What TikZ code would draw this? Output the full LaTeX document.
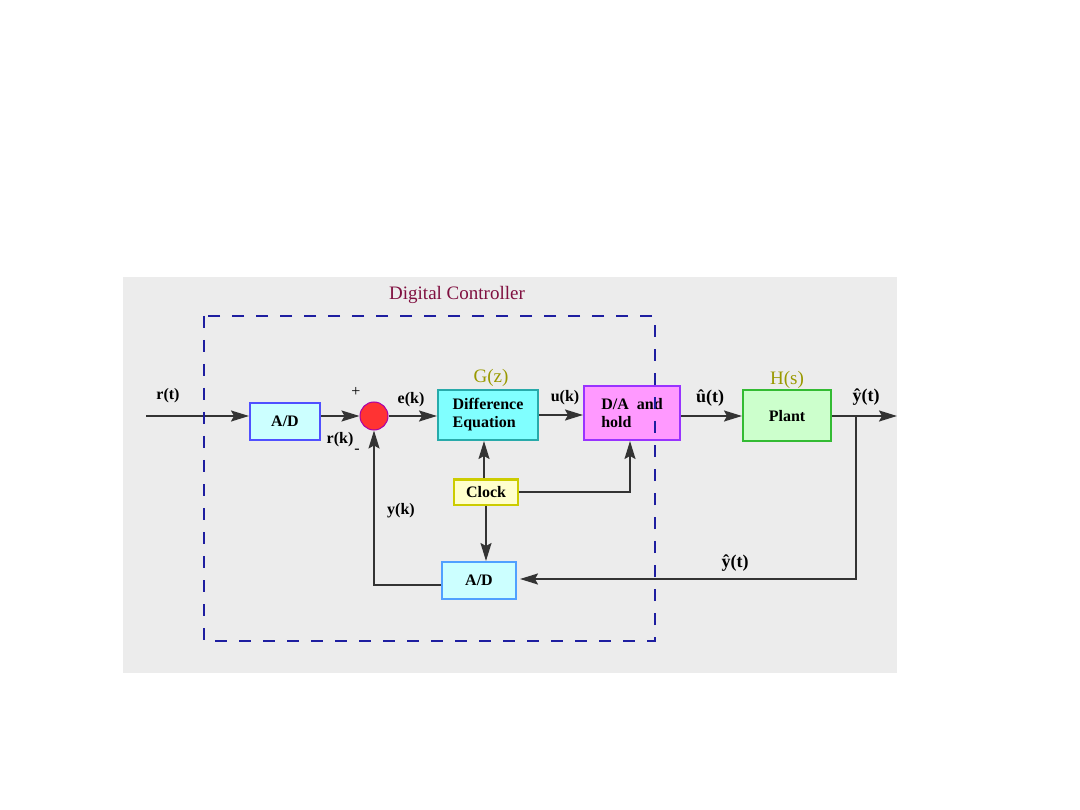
\documentclass[tikz,border=0pt]{standalone}
\usepackage{fontspec}
\setmainfont{Liberation Serif}
\usepackage{tikz}
\usetikzlibrary{arrows.meta}

\definecolor{paper}{RGB}{236,236,236}
\definecolor{adcyan}{RGB}{204,255,255}
\definecolor{adblue}{RGB}{80,80,255}
\definecolor{adblue2}{RGB}{80,160,255}
\definecolor{eqcyan}{RGB}{128,255,255}
\definecolor{eqrim}{RGB}{40,170,170}
\definecolor{dapink}{RGB}{255,153,255}
\definecolor{darim}{RGB}{153,51,255}
\definecolor{plantgreen}{RGB}{204,255,204}
\definecolor{plantrim}{RGB}{51,187,51}
\definecolor{clockyellow}{RGB}{255,255,204}
\definecolor{clockrim}{RGB}{204,204,0}
\definecolor{sumred}{RGB}{255,51,51}
\definecolor{sumrim}{RGB}{170,0,170}
\definecolor{titlered}{RGB}{128,16,64}
\definecolor{gzolive}{RGB}{153,153,0}
\definecolor{dashblue}{RGB}{30,30,160}

\begin{document}
\begin{tikzpicture}[x=1pt, y=-1pt, >={Stealth[length=18pt,width=11pt,inset=3pt]},
  line/.style={draw=black!80, line width=1.8pt},
  blok/.style={draw, line width=2pt, inner sep=0pt, align=left,
    font=\fontsize{16}{18}\selectfont\bfseries},
  lbl/.style={inner sep=0pt, font=\fontsize{16}{18}\selectfont\bfseries},
  hatlbl/.style={inner sep=0pt, font=\fontsize{18}{20}\selectfont\bfseries},
  sign/.style={inner sep=0pt, font=\fontsize{16}{18}\selectfont},
  head/.style={inner sep=0pt, text=gzolive, font=\fontsize{19}{21}\selectfont}]
  \useasboundingbox (0,0) rectangle (1080,810);

  % Paper background
  \fill[paper] (123,277) rectangle (897,673);

  % Blocks
  \node[blok, draw=adblue, fill=adcyan, minimum width=70, minimum height=37] (adin) at (285,421.5) {A/D};
  \node[circle, draw=sumrim, fill=sumred, line width=1pt, minimum size=28, inner sep=0pt] (sum) at (374,416) {};
  \node[blok, draw=eqrim, fill=eqcyan, minimum width=100, minimum height=50] (diffeq) at (488,415) {Difference\\Equation};
  \node[blok, draw=darim, fill=dapink, minimum width=96, minimum height=54] (dahold) at (632,413) {D/A~~and\\hold};
  \node[blok, draw=plantrim, fill=plantgreen, minimum width=88, minimum height=51] (plant) at (787,416) {Plant};
  \node[blok, draw=clockrim, fill=clockyellow, minimum width=64, minimum height=25] (clock) at (486,492) {Clock};
  \node[blok, draw=adblue2, fill=adcyan, minimum width=74, minimum height=37] (adfb) at (479,580.5) {A/D};

  % Free ends
  \coordinate (rin) at (146,416);
  \coordinate (yout) at (897,416);
  \coordinate (tap) at (856,416);
  \coordinate (tapdown) at (856,579);

  % Forward path
  \draw[line,->] (rin) -- (adin.west |- rin);
  \draw[line,->] (adin.east |- sum) -- (sum.west);
  \draw[line,->] (sum.east) -- (diffeq.west |- sum);
  \draw[line,->] (diffeq.east) -- (dahold.west |- diffeq.east);
  \draw[line,->] (dahold.east |- plant) -- (plant.west);
  \draw[line,->] (plant.east) -- (yout);

  % Feedback path
  \draw[line,->] (tap) -- (tapdown) -- ([xshift=3pt]adfb.east |- tapdown);
  \draw[line,->] ([yshift=-4.5pt]adfb.west) -| (sum.south);

  % Clock lines
  \draw[line,->] ([xshift=-2pt]clock.north) -- ([xshift=-2pt]clock.north |- diffeq.south);
  \draw[line,->] (clock.south) -- (clock.south |- adfb.north);
  \draw[line,->] (clock.east) -| ([xshift=-2pt]dahold.south);

  % Signal labels
  \node[lbl] (rtlab) at (168,396) {r(t)};
  \node[sign] (plus) at (356,392) {+};
  \node[sign] (minus) at (357,451) {-};
  \node[lbl] (rklab) at (340,440) {r(k)};
  \node[lbl] (eklab) at (411,400) {e(k)};
  \node[lbl] (uklab) at (565,398) {u(k)};
  \node[hatlbl] (utlab) at (710,398) {û(t)};
  \node[hatlbl] (ytlab) at (866,397) {ŷ(t)};
  \node[hatlbl] (ytfb) at (735,563) {ŷ(t)};
  \node[lbl] (yklab) at (401,511) {y(k)};

  % Headings
  \node[head] (gz) at (491,378) {G(z)};
  \node[head] (hs) at (787,380) {H(s)};
  \node[inner sep=0pt, text=titlered, font=\fontsize{19}{21}\selectfont] (title) at (457,295) {Digital Controller};

  % Controller frame
  \draw[dashblue, line width=1.4pt, dash pattern=on 12pt off 12pt] (204,316) rectangle (655,641);
\end{tikzpicture}
\end{document}
